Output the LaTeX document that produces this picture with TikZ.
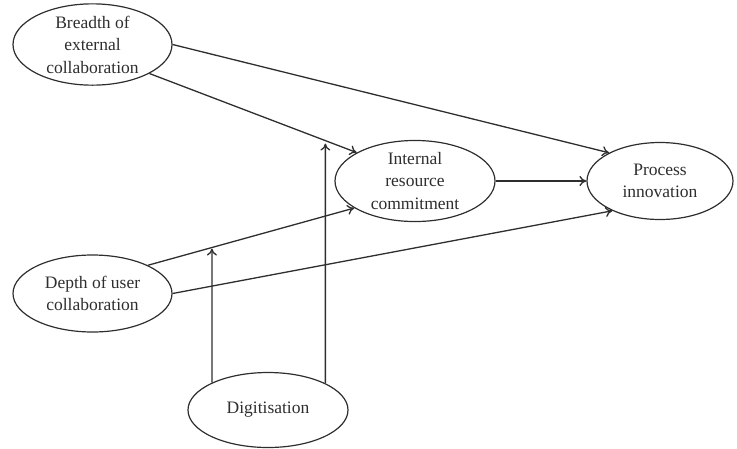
\documentclass[tikz,border=0pt]{standalone}
\usepackage{fontspec}
\setmainfont{Liberation Serif}
\usetikzlibrary{shapes.geometric,arrows.meta,calc}
\definecolor{ink}{HTML}{2E2E2E}
\begin{document}
\begin{tikzpicture}[x=1pt,y=-1pt,
  construct/.style={ellipse,draw=ink,line width=1.2pt,inner sep=0pt,
    align=center,text=ink,font=\fontsize{17.5}{22.5}\selectfont},
  path/.style={draw=ink,line width=1.3pt,-{To[length=7pt,width=10pt]}}]
\useasboundingbox (0,0) rectangle (737,448);

% constructs
\node[construct,minimum width=159pt,minimum height=75pt] (breadth) at (92.5,44.5)
  {Breadth of\\external\\collaboration};
\node[construct,minimum width=159pt,minimum height=77pt] (depth) at (92.5,293.5)
  {Depth of user\\collaboration};
\node[construct,minimum width=160pt,minimum height=80pt] (internal) at (415,181)
  {Internal\\resource\\commitment};
\node[construct,minimum width=146pt,minimum height=77pt] (process) at (660,181)
  {Process\\innovation};
\node[construct,minimum width=160pt,minimum height=75pt] (dig) at (268,410)
  {Digitisation};

% direct effects
\draw[path] (breadth.east) -- (process.151);
\draw[path] (breadth.-27) -- (internal.154);
\draw[path] (internal.east) -- (process.west);
\draw[path] (depth.27) -- (internal.204);
\draw[path] (depth.east) -- (process.212);

% moderating effects of digitisation
\coordinate (b1) at (breadth.-27);
\coordinate (i1) at (internal.154);
\coordinate (d1) at (depth.27);
\coordinate (i2) at (internal.204);
\coordinate (mL) at (dig.154);
\coordinate (mR) at (dig.25);
\coordinate (mLup) at ($(mL)+(0,-200)$);
\coordinate (mRup) at ($(mR)+(0,-300)$);
\draw[path,shorten >=1pt] (mL) -- (intersection of mL--mLup and d1--i2);
\draw[path,shorten >=3pt] (mR) -- (intersection of mR--mRup and b1--i1);
\end{tikzpicture}
\end{document}
